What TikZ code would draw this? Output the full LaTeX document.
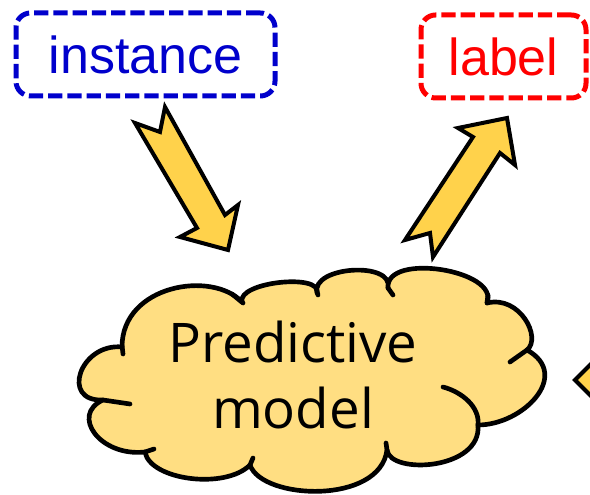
\documentclass[tikz,border=0pt]{standalone}
\usepackage{fontspec}
\setmainfont{Liberation Sans}
\newfontfamily\cloudfont{Open Sans}
\usepackage{xcolor}

\definecolor{myblue}{RGB}{0,0,204}
\definecolor{myred}{RGB}{255,0,0}
\definecolor{cloudyellow}{RGB}{255,222,130}
\definecolor{arrowyellow}{RGB}{255,210,75}

\begin{document}
\begin{tikzpicture}[x=0.75pt,y=0.75pt,line cap=round,line join=round]
	\tikzset{
		tagbox/.style={draw,dashed,line cap=butt,line width=3.75pt,rounded corners=11pt,
			dash pattern=on 10.7pt off 3.75pt,inner sep=0pt,font=\fontsize{39}{47}\selectfont},
		blockarrow/.style={draw=black,fill=arrowyellow,line width=3pt,line join=miter},
		cloudline/.style={line width=3.5pt}
	}
	% sizes
	\def\boxh{62.25pt}  % box height
	\def\instw{194.25pt} % width of instance box
	\def\lblw{123.75pt}  % width of label box
	
	% page
	\clip (0,0) rectangle (590,495);
	
	% dashed boxes
	\node[tagbox,draw=myblue,text=myblue,minimum width=\instw,minimum height=\boxh] (inst) at (145.5,440.5) {instance};
	\node[tagbox,draw=myred,text=myred,minimum width=\lblw,minimum height=\boxh] (lbl) at (503.5,438.5) {label};
	
	% cloud outline
	\draw[cloudline,fill=cloudyellow]
	(122,148) .. controls (80,152) and (60,93) .. (103,95)   % left
	.. controls (70,80) and (100,38) .. (145,43)             % lower left
	.. controls (150,15) and (225,5) .. (250,30)             % bottom left
	.. controls (262,-5) and (380,-10) .. (387,45)           % bottom
	.. controls (390,20) and (482,25) .. (478,70)            % bottom right
	.. controls (523,70) and (572,120) .. (527,145)          % right
	.. controls (542,157) and (520,200) .. (487,192)         % upper right
	.. controls (500,225) and (385,243) .. (388,207)         % top right
	.. controls (394,234) and (311,229) .. (317,202)         % top
	.. controls (322,222) and (237,213) .. (242,193)         % top left
	.. controls (212,225) and (122,210) .. (122,148) -- cycle;
	
	% inner arcs of the cloud
	\draw[cloudline]
	(122,150) -- (123,141)
	(103,95) -- (130,91)
	(145,43) -- (154,46)
	(250,30) -- (253,37)
	(387,45) -- (386,52)
	(478,70) .. controls (480,88) and (462,103) .. (443,108)
	(527,145) -- (510,133)
	(487,192) -- (488,200)
	(388,207) -- (393,200)
	(316,207) -- (318,200)
	(232,201) -- (243,192);
	
	\node[font=\cloudfont\fontsize{41}{49.5}\selectfont,align=center] (model) at (293,120) {Predictive\\model};
	
	% block arrows
	\draw[blockarrow] (135,372) -- (197,267) -- (180,258) -- (228,245) -- (238,290)
	-- (225,280) -- (165,388) -- (160,363) -- cycle;
	\draw[blockarrow] (405,255) -- (473,358) -- (458,367) -- (507,377) -- (515,330)
	-- (500,342) -- (433,238) -- (430,262) -- cycle;
	\draw[blockarrow] (575,115) -- (605,145) -- (605,85) -- cycle;
	
\end{tikzpicture}
\end{document}
